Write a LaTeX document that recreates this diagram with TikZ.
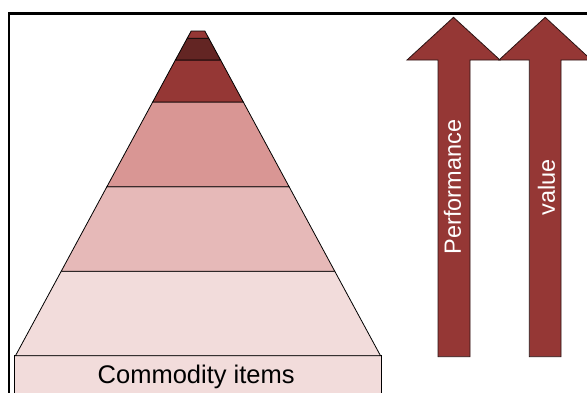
\documentclass[tikz,border=0pt]{standalone}
\usepackage{fontspec}
\setmainfont{Liberation Sans}
\usepackage{xcolor}
\definecolor{pyrRed}{HTML}{953735}
\definecolor{pyrDark}{HTML}{632523}
\definecolor{pyrMid}{HTML}{D99694}
\definecolor{pyrLight}{HTML}{E6B9B8}
\definecolor{pyrPale}{HTML}{F2DCDB}
\definecolor{pyrEdge}{HTML}{2B1414}

\tikzset{
  layer/.style={draw=black, line width=0.8pt, line join=miter},
  uparrow/.style={draw=pyrEdge, fill=pyrRed, line width=0.8pt},
  arrowlabel/.style={text=white, rotate=90, font=\fontsize{23.5}{26}\selectfont, inner sep=0pt}
}

\begin{document}
\begin{tikzpicture}[x=1pt, y=-1pt]
  \useasboundingbox (0,0) rectangle (587,392);
  \clip (0,0) rectangle (587,392);

  % Frame
  \draw[line width=2.4pt] (8.7,400) -- (8.7,13.5) -- (600,13.5);

  % Base box
  \draw[layer, fill=pyrPale] (14,355.7) rectangle (381,400);
  \node[font=\fontsize{25.5}{28}\selectfont, inner sep=0pt, anchor=base] (base) at (196.2,383.3) {Commodity items};

  % Pyramid layers, bottom to top
  \draw[layer, fill=pyrPale]  (15.5,355.7) -- (61.2,271.3) -- (334.8,271.3) -- (380.5,355.7) -- cycle;
  \draw[layer, fill=pyrLight] (61.2,271.3) -- (106.9,186.7) -- (289.1,186.7) -- (334.8,271.3) -- cycle;
  \draw[layer, fill=pyrMid]   (106.9,186.7) -- (152.7,102) -- (243.3,102) -- (289.1,186.7) -- cycle;
  \draw[layer, fill=pyrRed]   (152.7,102) -- (175.4,60) -- (220.6,60) -- (243.3,102) -- cycle;
  \draw[layer, fill=pyrDark]  (175.4,60) -- (187.2,38.3) -- (208.8,38.3) -- (220.6,60) -- cycle;
  \draw[layer, fill=pyrRed]   (187.2,38.3) -- (191.2,31) -- (204.8,31) -- (208.8,38.3) -- cycle;

  % Arrows on the right
  \draw[uparrow] (438,356.7) -- (438,60) -- (407,60) -- (453.5,17.3) -- (500,60) -- (470,60) -- (470,356.7) -- cycle;
  \draw[uparrow] (529.3,356.7) -- (529.3,60) -- (499,60) -- (545.2,17.3) -- (591.4,60) -- (561,60) -- (561,356.7) -- cycle;
  \node[arrowlabel] (perf) at (452.5,187) {Performance};
  \node[arrowlabel] (val) at (546.5,187.5) {value};
\end{tikzpicture}
\end{document}
